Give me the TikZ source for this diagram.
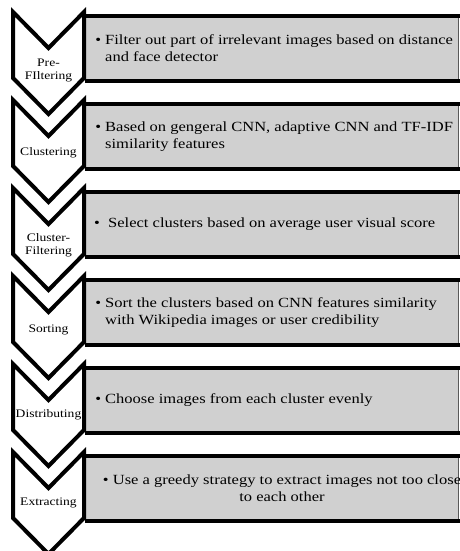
\documentclass[tikz,border=0pt]{standalone}
\usepackage{fontspec}
\setmainfont[FakeStretch=1.18]{Liberation Serif}
\usepackage{tikz}
\usetikzlibrary{positioning}
\definecolor{boxgray}{RGB}{208,208,208}
\tikzstyle{chevron} = [draw=black, fill=white, line width=4pt, miter limit=10]
\tikzstyle{steplabel} = [align=center, inner sep=0pt, font=\fontsize{11.5}{13}\selectfont]
\tikzstyle{stepbox} = [rectangle, anchor=north west, minimum width=373pt, minimum height=64pt, fill=boxgray, draw=gray!70!black, line width=0.6pt]
\tikzstyle{steptext} = [align=left, anchor=west, inner sep=0pt, font=\fontsize{14}{17}\selectfont]
\tikzstyle{rule} = [draw, line width=4pt]

\begin{document}
\begin{tikzpicture}[x=1pt, y=-1pt]
    \useasboundingbox (0,0) rectangle (460,551);

    % Boxes
    \node [stepbox] (prefilter) at (85,16) {};
    \node [stepbox] (cluster) at (85,104) {};
    \node [stepbox] (clusterfilter) at (85,192) {};
    \node [stepbox] (sort) at (85,280) {};
    \node [stepbox] (distribute) at (85,368) {};
    \node [stepbox] (extract) at (85,456) {};

    % Thick rules on the boxes
    \path [rule] (prefilter.north west) -- ([xshift=4pt]prefilter.north east);
    \path [rule] (prefilter.south west) -- ([xshift=4pt]prefilter.south east);
    \path [rule] (cluster.north west) -- ([xshift=4pt]cluster.north east);
    \path [rule] (cluster.south west) -- ([xshift=4pt]cluster.south east);
    \path [rule] (clusterfilter.north west) -- ([xshift=4pt]clusterfilter.north east);
    \path [rule] (clusterfilter.south west) -- ([xshift=4pt]clusterfilter.south east);
    \path [rule] (sort.north west) -- ([xshift=4pt]sort.north east);
    \path [rule] (sort.south west) -- ([xshift=4pt]sort.south east);
    \path [rule] (distribute.north west) -- ([xshift=4pt]distribute.north east);
    \path [rule] (distribute.south west) -- ([xshift=4pt]distribute.south east);
    \path [rule] (extract.north west) -- ([xshift=4pt]extract.north east);
    \path [rule] (extract.south west) -- ([xshift=4pt]extract.south east);

    % Box texts
    \node [steptext] (prefilter-text) at ([xshift=20pt]prefilter.west) {\llap{\textbullet\ }Filter out part of irrelevant images based on distance\\and face detector};
    \node [steptext] (cluster-text) at ([xshift=20pt]cluster.west) {\llap{\textbullet\ }Based on gengeral CNN, adaptive CNN and TF-IDF\\similarity features};
    \node [steptext] (clusterfilter-text) at ([xshift=23pt]clusterfilter.west) {\llap{\textbullet\ \ }Select clusters based on average user visual score};
    \node [steptext] (sort-text) at ([xshift=20pt]sort.west) {\llap{\textbullet\ }Sort the clusters based on CNN features similarity\\with Wikipedia images or user credibility};
    \node [steptext] (distribute-text) at ([xshift=20pt]distribute.west) {\llap{\textbullet\ }Choose images from each cluster evenly};
    \node [steptext, align=center, anchor=center] (extract-text) at (282,488) {\textbullet\ Use a greedy strategy to extract images not too close\\to each other};

    % Chevrons
    \draw [chevron] (13,12) -- (48.5,48) -- (84,12) -- (84,78) -- (48.5,114) -- (13,78) -- cycle;
    \draw [chevron] (13,100) -- (48.5,136) -- (84,100) -- (84,166) -- (48.5,202) -- (13,166) -- cycle;
    \draw [chevron] (13,188) -- (48.5,224) -- (84,188) -- (84,254) -- (48.5,290) -- (13,254) -- cycle;
    \draw [chevron] (13,276) -- (48.5,312) -- (84,276) -- (84,342) -- (48.5,378) -- (13,342) -- cycle;
    \draw [chevron] (13,364) -- (48.5,400) -- (84,364) -- (84,430) -- (48.5,466) -- (13,430) -- cycle;
    \draw [chevron] (13,452) -- (48.5,488) -- (84,452) -- (84,518) -- (48.5,554) -- (13,518) -- cycle;

    % Chevron labels
    \node [steplabel] (prefilter-label) at (48.5,70) {Pre-\\FIltering};
    \node [steplabel] (cluster-label) at (48.5,153) {Clustering};
    \node [steplabel] (clusterfilter-label) at (48.5,245) {Cluster-\\Filtering};
    \node [steplabel] (sort-label) at (48.5,330) {Sorting};
    \node [steplabel] (distribute-label) at (48.5,415) {Distributing};
    \node [steplabel] (extract-label) at (48.5,503) {Extracting};
\end{tikzpicture}
\end{document}
